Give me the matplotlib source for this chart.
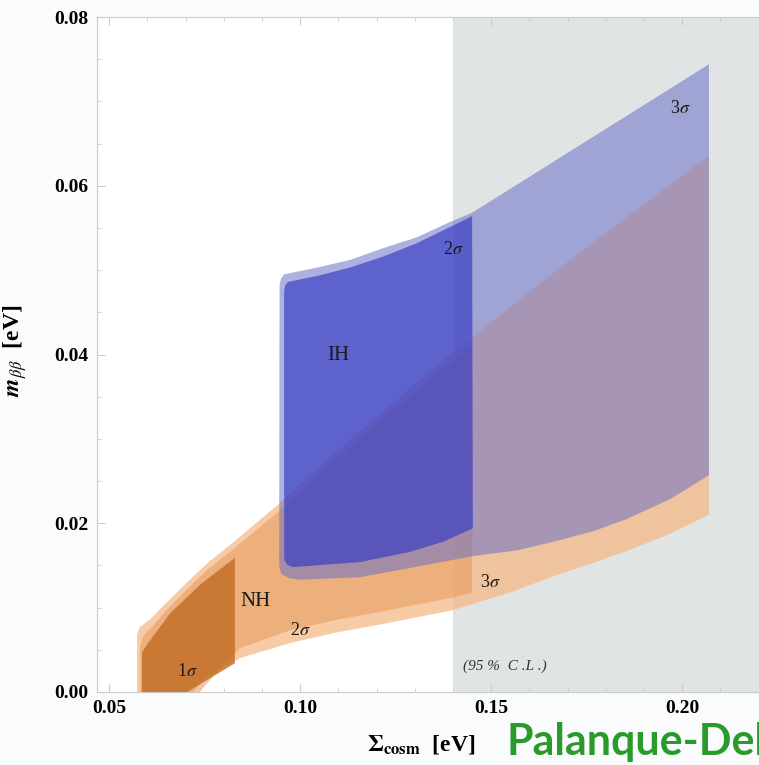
import matplotlib
matplotlib.use("Agg")
import matplotlib.pyplot as plt
from matplotlib.ticker import MultipleLocator, FormatStrFormatter

plt.rcParams['font.family'] = ['Liberation Serif', 'DejaVu Serif']
plt.rcParams['mathtext.fontset'] = 'stix'

# ---- data ----
# excluded by cosmology beyond this sum of masses
cosmo_limit = 0.14

# IH 3 sigma region (outline, clockwise from lower left)
ih3_x = [0.0945, 0.0946, 0.0950, 0.0958, 0.1044, 0.1130, 0.1217, 0.1306, 0.1392, 0.1450, 0.2070,
         0.2070, 0.1970, 0.1855, 0.1770, 0.1680, 0.1570, 0.1452, 0.1287, 0.1157, 0.1000, 0.0970,
         0.0950]
ih3_y = [0.0150, 0.0482, 0.0490, 0.0495, 0.0503, 0.0512, 0.0526, 0.0539, 0.0557, 0.0568, 0.0744,
         0.0257, 0.0229, 0.0205, 0.0191, 0.0180, 0.0168, 0.0161, 0.0147, 0.0136, 0.0133, 0.0135,
         0.0140]

# IH 2 sigma region
ih2_x = [0.0958, 0.0958, 0.0961, 0.0968, 0.1044, 0.1130, 0.1217, 0.1306, 0.1392, 0.1450,
         0.1452, 0.1374, 0.1287, 0.1157, 0.0981, 0.0966, 0.0959]
ih2_y = [0.0162, 0.0476, 0.0482, 0.0486, 0.0493, 0.0503, 0.0516, 0.0532, 0.0551, 0.0564,
         0.0194, 0.0178, 0.0166, 0.0154, 0.0148, 0.0151, 0.0156]

# NH 3 sigma region
nh3_x = [0.0573, 0.0573, 0.0580, 0.0607, 0.0650, 0.0704, 0.0760, 0.0824, 0.0939, 0.107, 0.120,
         0.1366, 0.1452, 0.1706, 0.2065, 0.2070,
         0.2070, 0.1960, 0.1855, 0.1760, 0.1680, 0.1550, 0.1400, 0.1209, 0.1100, 0.0973, 0.0842,
         0.0760, 0.0719]
nh3_y = [0.0, 0.0068, 0.0077, 0.0086, 0.0106, 0.0130, 0.0154, 0.0177, 0.0221, 0.0275, 0.0326,
         0.0390, 0.0421, 0.0512, 0.0634, 0.0634,
         0.0210, 0.0186, 0.0167, 0.0152, 0.0140, 0.0118, 0.0097, 0.0080, 0.0071, 0.0058, 0.0040,
         0.0020, 0.0]

# NH 2 sigma region
nh2_x = [0.0581, 0.0581, 0.0590, 0.0612, 0.0650, 0.0704, 0.0760, 0.0824, 0.0939, 0.107, 0.120,
         0.1366, 0.145,
         0.145, 0.1400, 0.1209, 0.1100, 0.0973, 0.0842, 0.0790, 0.0737]
nh2_y = [0.0, 0.0055, 0.0067, 0.0077, 0.0097, 0.0122, 0.0146, 0.0169, 0.0212, 0.0266, 0.0317,
         0.0380, 0.0410,
         0.0118, 0.0112, 0.0095, 0.0086, 0.0073, 0.0052, 0.0028, 0.0]

# NH 1 sigma region
nh1_x = [0.0586, 0.0586, 0.0600, 0.0615, 0.0659, 0.0740, 0.0829, 0.0829, 0.0704]
nh1_y = [0.0, 0.0047, 0.0057, 0.0066, 0.0093, 0.0128, 0.0159, 0.0034, 0.0]

# region labels: (x, y, text, size)
labels = [
    (0.1099, 0.0399, "IH", 15),
    (0.1400, 0.0524, r"2$\sigma$", 13),
    (0.1994, 0.0692, r"3$\sigma$", 13),
    (0.0884, 0.0107, "NH", 15),
    (0.1000, 0.0073, r"2$\sigma$", 13),
    (0.0704, 0.0024, r"1$\sigma$", 13),
    (0.1497, 0.0130, r"3$\sigma$", 13),
]

fig = plt.figure(figsize=(7.59, 7.65), dpi=100)
fig.patch.set_facecolor('#f9fbfc')
ax = fig.add_axes([97 / 759, 73 / 765, 662 / 759, 675 / 765])
ax.set_facecolor('white')
ax.set_xlim(0.04681, 0.2201)
ax.set_ylim(0.0, 0.08)

ax.axvspan(cosmo_limit, 0.25, color='#e1e4e5', zorder=0, lw=0)

ax.fill(nh3_x, nh3_y, color='#f6b785', alpha=0.72, lw=0, zorder=1)
ax.fill(nh2_x, nh2_y, color='#e49a5a', alpha=0.55, lw=0, zorder=2)
ax.fill(nh1_x, nh1_y, color='#c06c22', alpha=0.8, lw=0, zorder=3)
ax.fill(ih3_x, ih3_y, color='#6a70c8', alpha=0.55, lw=0, zorder=4)
ax.fill(ih2_x, ih2_y, color='#3338c4', alpha=0.65, lw=0, zorder=5)

for x, y, t, s in labels:
    ax.text(x, y, t, fontsize=s, ha='center', va='center', color='#1a1a1a', zorder=6)
ax.text(0.1536, 0.0030, "(95 %  C .L .)", fontsize=11, style='italic', ha='center', va='center',
        color='#333333', zorder=6)

# axes styling, Mathematica-like frame
for side in ['left', 'top', 'bottom']:
    ax.spines[side].set_color('#c8cacc')
    ax.spines[side].set_linewidth(0.8)
ax.spines['right'].set_visible(False)
ax.xaxis.set_major_locator(MultipleLocator(0.05))
ax.xaxis.set_minor_locator(MultipleLocator(0.01))
ax.yaxis.set_major_locator(MultipleLocator(0.02))
ax.yaxis.set_minor_locator(MultipleLocator(0.005))
ax.xaxis.set_major_formatter(FormatStrFormatter('%.2f'))
ax.yaxis.set_major_formatter(FormatStrFormatter('%.2f'))
ax.tick_params(which='both', direction='in', top=True, color='#c8cacc')
ax.tick_params(which='major', length=6, labelsize=14, pad=6)
ax.tick_params(which='minor', length=3)
for lab in ax.get_xticklabels() + ax.get_yticklabels():
    lab.set_fontweight('bold')

ax.set_ylabel(r"$\boldsymbol{m}_{\beta\beta}$  [eV]", fontsize=17, fontweight='bold')
ax.yaxis.set_label_coords(-0.102, 0.505)
ax.set_xlabel(r"$\mathbf{\Sigma}_{\mathbf{cosm}}$  [eV]", fontsize=17, fontweight='bold')
ax.xaxis.set_label_coords(0.49, -0.06)

# slide footer, cut at the right edge as in the slide
fig.text(507 / 759, 10 / 765, "Palanque-Del", color='#2a9b2a', fontsize=31,
         fontweight='bold', family=['Lato', 'DejaVu Sans'], ha='left', va='baseline')

fig.savefig("out.png", dpi=100, facecolor=fig.get_facecolor())
